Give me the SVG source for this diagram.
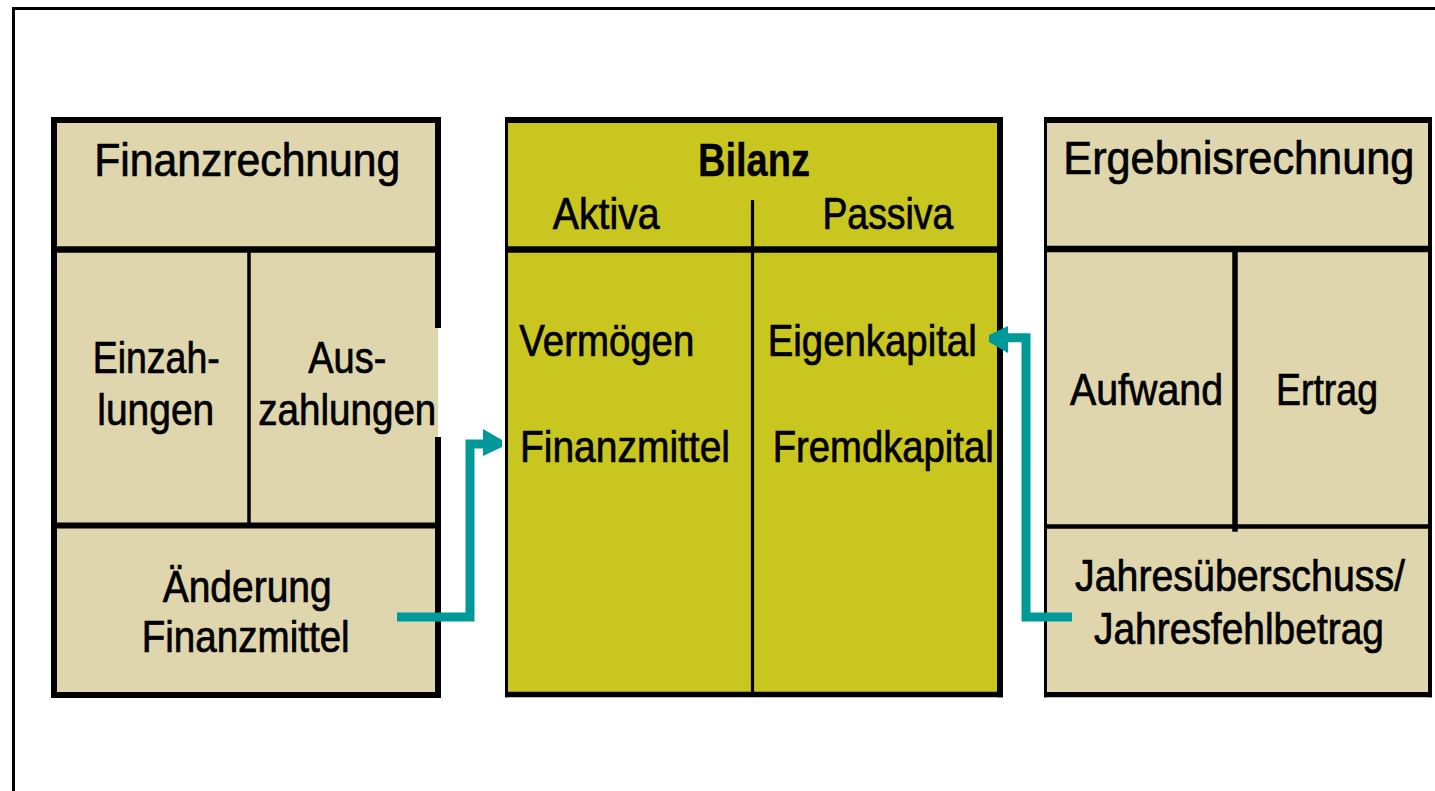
<svg xmlns="http://www.w3.org/2000/svg" width="1435" height="791" viewBox="0 0 1435 791">
<defs>
<style>
.beige{fill:#DFD6AE}
.yellow{fill:#C9C620}
.ln{stroke:#000;fill:none}
.t{font-family:"Liberation Sans",Arial,Helvetica,sans-serif;font-size:44px;fill:#000;stroke:#000;stroke-width:0.7px}
.h{font-size:46px}
.b{font-weight:bold;stroke-width:0.3px}
.con{stroke:#009999;stroke-width:9;fill:none;stroke-linejoin:miter;stroke-linecap:butt}
.head{fill:#009999}
</style>
</defs>
<rect x="0" y="0" width="1435" height="791" fill="#fff"/>
<g id="frame">
<line class="ln" x1="13.5" y1="7" x2="13.5" y2="791" stroke-width="3"/>
<line class="ln" x1="12" y1="8.5" x2="1435" y2="8.5" stroke-width="3"/>
</g>
<g id="finanzrechnung">
<rect class="beige" x="51" y="117" width="390" height="581"/>
<rect class="ln" x="54" y="120" width="384" height="575" stroke-width="6"/>
<line class="ln" x1="51" y1="249.5" x2="441" y2="249.5" stroke-width="6.5"/>
<line class="ln" x1="51" y1="525.5" x2="441" y2="525.5" stroke-width="6"/>
<line class="ln" x1="249" y1="249.5" x2="249" y2="525.5" stroke-width="3.5"/>
<rect class="beige" x="435" y="328" width="3" height="109"/>
<rect x="438" y="328" width="4" height="109" fill="#fff"/>
<text class="t h" x="94.3" y="176" textLength="306" lengthAdjust="spacingAndGlyphs">Finanzrechnung</text>
<text class="t" x="92.7" y="373.3" textLength="127" lengthAdjust="spacingAndGlyphs">Einzah-</text>
<text class="t" x="97.3" y="425" textLength="117" lengthAdjust="spacingAndGlyphs">lungen</text>
<text class="t" x="308.3" y="373.3" textLength="78" lengthAdjust="spacingAndGlyphs">Aus-</text>
<text class="t" x="258.3" y="425" textLength="178" lengthAdjust="spacingAndGlyphs">zahlungen</text>
<text class="t" x="162.7" y="601.7" textLength="169" lengthAdjust="spacingAndGlyphs">Änderung</text>
<text class="t" x="141.7" y="651.7" textLength="208" lengthAdjust="spacingAndGlyphs">Finanzmittel</text>
</g>
<g id="bilanz">
<rect class="yellow" x="505" y="117" width="498" height="580"/>
<line class="ln" x1="505" y1="120" x2="1003" y2="120" stroke-width="6"/>
<line class="ln" x1="505" y1="694.5" x2="1003" y2="694.5" stroke-width="5.6"/>
<line class="ln" x1="1000" y1="117" x2="1000" y2="697.3" stroke-width="6"/>
<line class="ln" x1="506.5" y1="117" x2="506.5" y2="697.3" stroke-width="3"/>
<line class="ln" x1="505" y1="249.5" x2="1003" y2="249.5" stroke-width="6.5"/>
<line class="ln" x1="752.5" y1="200" x2="752.5" y2="694" stroke-width="3.2"/>
<text class="t h b" x="698" y="176" textLength="112" lengthAdjust="spacingAndGlyphs">Bilanz</text>
<text class="t" x="552.7" y="229.3" textLength="107" lengthAdjust="spacingAndGlyphs">Aktiva</text>
<text class="t" x="822.4" y="229.3" textLength="131" lengthAdjust="spacingAndGlyphs">Passiva</text>
<text class="t" x="519.3" y="356" textLength="175" lengthAdjust="spacingAndGlyphs">Vermögen</text>
<text class="t" x="767.7" y="356" textLength="209" lengthAdjust="spacingAndGlyphs">Eigenkapital</text>
<text class="t" x="520" y="461.7" textLength="210" lengthAdjust="spacingAndGlyphs">Finanzmittel</text>
<text class="t" x="772.7" y="461.7" textLength="221" lengthAdjust="spacingAndGlyphs">Fremdkapital</text>
</g>
<g id="ergebnisrechnung">
<rect class="beige" x="1044" y="117" width="388" height="580"/>
<line class="ln" x1="1044" y1="120" x2="1432" y2="120" stroke-width="6"/>
<line class="ln" x1="1044" y1="694.6" x2="1432" y2="694.6" stroke-width="5.4"/>
<line class="ln" x1="1045.5" y1="117" x2="1045.5" y2="697.3" stroke-width="3"/>
<line class="ln" x1="1430" y1="117" x2="1430" y2="697.3" stroke-width="4"/>
<line class="ln" x1="1044" y1="249" x2="1432" y2="249" stroke-width="6.5"/>
<line class="ln" x1="1044" y1="526.5" x2="1432" y2="526.5" stroke-width="4.5"/>
<line class="ln" x1="1235" y1="249" x2="1235" y2="531.7" stroke-width="5.5"/>
<text class="t h" x="1063.3" y="174" textLength="351" lengthAdjust="spacingAndGlyphs">Ergebnisrechnung</text>
<text class="t" x="1070" y="405" textLength="153" lengthAdjust="spacingAndGlyphs">Aufwand</text>
<text class="t" x="1276" y="405" textLength="102" lengthAdjust="spacingAndGlyphs">Ertrag</text>
<text class="t" x="1075" y="590.7" textLength="330" lengthAdjust="spacingAndGlyphs">Jahresüberschuss/</text>
<text class="t" x="1094" y="644" textLength="290" lengthAdjust="spacingAndGlyphs">Jahresfehlbetrag</text>
</g>
<g id="connectors">
<polyline class="con" points="397,617 470,617 470,444 485,444"/>
<polygon class="head" points="483,429 502,440 502,447 483,456"/>
<polyline class="con" points="1072,617 1026,617 1026,337.7 1006,337.7"/>
<polygon class="head" points="1008,326 989,335 989,342 1008,353"/>
</g>
</svg>
